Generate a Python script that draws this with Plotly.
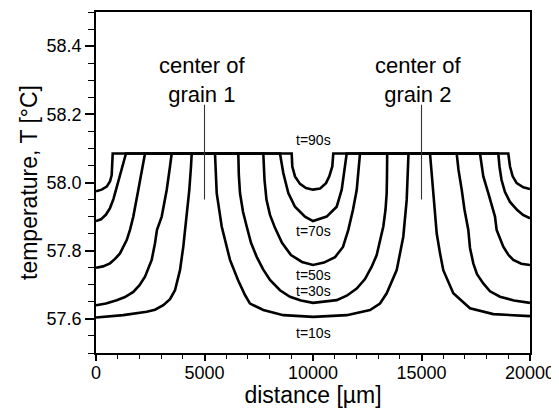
import plotly.graph_objects as go

# ---------------- data ----------------
t90_x = [0, 263, 493, 645, 723, 751, 770, 9018, 9046, 9170, 9401, 9677, 10000, 10322, 10599, 10751, 10889, 10935,
         19000, 19078, 19202, 19386, 19693, 20000]
t90_y = [57.974, 57.979, 57.988, 58.003, 58.022, 58.047, 58.085, 58.085, 58.047, 58.018, 57.996, 57.984, 57.979,
         57.982, 57.998, 58.018, 58.047, 58.085, 58.085, 58.047, 58.018, 57.998, 57.986, 57.981]

t70_x = [0, 230, 461, 645, 806, 945, 1083, 1221, 1382, 8479, 8631, 8862, 9170, 9631, 10000, 10631, 11092, 11323,
         11475, 11553, 18539, 18594, 18686, 18847, 19078, 19401, 19677, 20000]
t70_y = [57.887, 57.892, 57.906, 57.925, 57.952, 57.984, 58.022, 58.055, 58.085, 58.085, 58.028, 57.969, 57.929,
         57.900, 57.887, 57.900, 57.929, 57.979, 58.047, 58.085, 58.085, 58.047, 58.008, 57.972, 57.943, 57.920,
         57.905, 57.895]

t50_x = [0, 323, 645, 876, 1106, 1415, 1567, 1719, 1949, 2106, 2258, 7710, 7765, 7857, 8018, 8249, 8571, 8986,
         9493, 10000, 10507, 11014, 11382, 11627, 11843, 12014, 12097, 12166, 17696, 17848, 18078, 18387, 18462,
         18769, 19000, 19230, 19600, 20000]
t50_y = [57.750, 57.754, 57.763, 57.776, 57.792, 57.831, 57.861, 57.900, 57.978, 58.037, 58.085, 58.085, 58.008,
         57.949, 57.905, 57.867, 57.823, 57.787, 57.767, 57.758, 57.765, 57.781, 57.811, 57.861, 57.920, 57.978,
         58.037, 58.085, 58.085, 58.018, 57.969, 57.900, 57.861, 57.812, 57.788, 57.773, 57.762, 57.758]

t30_x = [0, 461, 954, 1336, 1719, 2005, 2258, 2567, 2719, 2811, 3028, 3258, 3410, 3488,
         6558, 6581, 6636, 6774, 6945, 7143, 7406, 7696, 8018, 8479, 8940, 9447, 10000, 10553, 11092, 11553,
         12014, 12396, 12705, 12935, 13088, 13240, 13341, 13396, 13410, 13419,
         16622, 16705, 16853, 16982, 17157, 17235, 17387, 17558, 17848, 18157, 18617, 19263, 20000]
t30_y = [57.640, 57.645, 57.655, 57.664, 57.679, 57.699, 57.724, 57.773, 57.822, 57.861, 57.900, 57.978, 58.047,
         58.085,
         58.085, 58.023, 57.969, 57.914, 57.871, 57.823, 57.782, 57.746, 57.714, 57.684, 57.665, 57.654, 57.647,
         57.651, 57.655, 57.668, 57.689, 57.717, 57.753, 57.787, 57.831, 57.871, 57.920, 57.969, 58.023, 58.085,
         58.085, 58.037, 57.979, 57.920, 57.861, 57.808, 57.763, 57.731, 57.704, 57.681, 57.665, 57.654, 57.647]

t10_x = [0, 1258, 2336, 2719, 3101, 3410, 3641, 3871, 4023, 4101, 4180, 4300, 4378, 4410,
         5484, 5562, 5793, 6175, 6544, 6866, 7097, 7710, 8632, 10014, 11553, 12627, 13088, 13396, 13857, 14161,
         14318, 14392, 14401,
         15392, 15470, 15543, 15700, 15860, 16004, 16465, 17235, 18309, 19200, 20000]
t10_y = [57.604, 57.611, 57.621, 57.627, 57.640, 57.658, 57.684, 57.743, 57.812, 57.861, 57.900, 57.978, 58.047,
         58.085,
         58.085, 57.969, 57.871, 57.773, 57.714, 57.670, 57.645, 57.626, 57.611, 57.606, 57.611, 57.626, 57.645,
         57.675, 57.743, 57.841, 57.949, 58.067, 58.085,
         58.085, 58.030, 57.979, 57.851, 57.790, 57.743, 57.675, 57.631, 57.614, 57.610, 57.608]

curve_names = ["t=90s", "t=70s", "t=50s", "t=30s", "t=10s"]
curve_xs = [t90_x, t70_x, t50_x, t30_x, t10_x]
curve_ys = [t90_y, t70_y, t50_y, t30_y, t10_y]

# curve labels (text, x, y)
label_texts = ["t=90s", "t=70s", "t=50s", "t=30s", "t=10s"]
label_x = [10000, 10000, 10000, 10000, 10000]
label_y = [58.124, 57.858, 57.728, 57.683, 57.559]

# grain centres
grain_x = [5000, 15000]
grain_text = ["center of<br>grain 1", "center of<br>grain 2"]
grain_text_x = [4900, 14850]
grain_text_y = [58.30, 58.30]
grain_line_top = 58.228
grain_line_bottom = 57.950

x_ticks = [0, 5000, 10000, 15000, 20000]
y_ticks = [57.6, 57.8, 58.0, 58.2, 58.4]

FONT = "Liberation Sans, Arial, Helvetica, sans-serif"

fig = go.Figure()
for nm, xs, ys in zip(curve_names, curve_xs, curve_ys):
    fig.add_trace(go.Scatter(x=xs, y=ys, mode="lines", name=nm,
                             line=dict(color="black", width=2.6, shape="linear"),
                             showlegend=False, hoverinfo="skip"))

for gx in grain_x:
    fig.add_trace(go.Scatter(x=[gx, gx], y=[grain_line_top, grain_line_bottom], mode="lines",
                             line=dict(color="#333333", width=1.1), showlegend=False, hoverinfo="skip"))

annotations = []
for t, x, y in zip(label_texts, label_x, label_y):
    annotations.append(dict(x=x, y=y, text=t, showarrow=False, xanchor="center", yanchor="middle",
                            font=dict(family=FONT, size=14, color="black")))
for t, x, y in zip(grain_text, grain_text_x, grain_text_y):
    annotations.append(dict(x=x, y=y, text=t, showarrow=False, xanchor="center", yanchor="middle",
                            font=dict(family=FONT, size=22, color="black")))

# page body has an 8px margin: figure is offset by (8, 8) in the window
fig.update_layout(
    width=551, height=400,
    margin=dict(l=88, r=29, t=4, b=55),
    paper_bgcolor="white", plot_bgcolor="white",
    font=dict(family=FONT, size=18, color="black"),
    annotations=annotations,
    xaxis=dict(range=[0, 20000], tickvals=x_ticks, ticktext=[str(v) for v in x_ticks],
               ticks="outside", ticklen=6, tickwidth=1.5, tickcolor="black",
               minor=dict(dtick=1000, tick0=0, ticks="outside", ticklen=4, tickwidth=1.2, tickcolor="black"),
               showline=True, linecolor="black", linewidth=1.8, mirror=True,
               showgrid=False, zeroline=False, automargin=False,
               ticklabelstandoff=-4,
               tickfont=dict(family=FONT, size=18),
               title=dict(text="distance [\u00b5m]", font=dict(family=FONT, size=23), standoff=6)),
    yaxis=dict(range=[57.5, 58.5], tickvals=y_ticks, ticktext=["%.1f" % v for v in y_ticks],
               ticks="outside", ticklen=9, tickwidth=1.5, tickcolor="black",
               minor=dict(dtick=0.05, tick0=57.5, ticks="outside", ticklen=6, tickwidth=1.2, tickcolor="black"),
               showline=True, linecolor="black", linewidth=1.8, mirror=True,
               showgrid=False, zeroline=False, automargin=False,
               tickfont=dict(family=FONT, size=18),
               title=dict(text="temperature, T [\u00b0C]", font=dict(family=FONT, size=23), standoff=2)),
)

fig.write_html("out.html")
